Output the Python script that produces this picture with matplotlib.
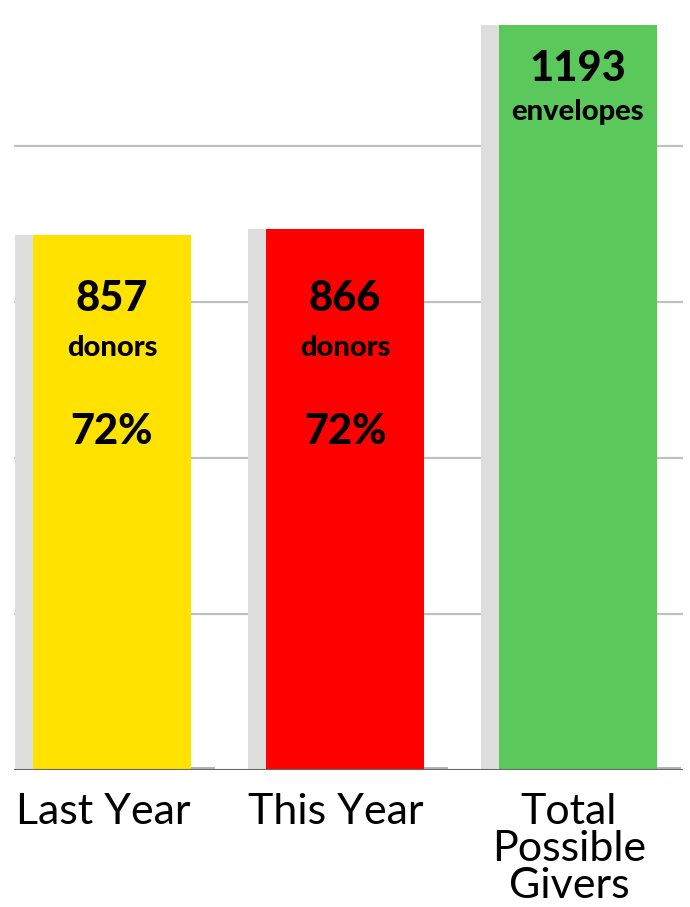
import matplotlib
matplotlib.use("Agg")
import matplotlib.pyplot as plt
import matplotlib.transforms as mtransforms

categories = ["Last Year", "This Year", "Total\nPossible\nGivers"]
values = [857, 866, 1193]
colors = ["#FFE200", "#FF0000", "#5AC85A"]
counts = ["857", "866", "1193"]
units = ["donors", "donors", "envelopes"]
percents = ["72%", "72%", ""]
stub_values = [5, 5, 5]

W_px, H_px = 690, 907
fig = plt.figure(figsize=(W_px / 100, H_px / 100), dpi=100)
base_px = 770
ax = fig.add_axes([0, (H_px - base_px) / H_px, 1, base_px / H_px])

px_per_unit_y = 0.6245
ax.set_ylim(0, base_px / px_per_unit_y)
step = 233.0
x0_px = 103.0
ax.set_xlim(-x0_px / step, (W_px - x0_px) / step)

W = 176 / step
s = 18 / step
stub_w = 24 / step
xs = list(range(len(categories)))

# gridlines
for g in [250, 500, 750, 1000]:
    ax.plot([(14 - x0_px) / step, (683 - x0_px) / step], [g, g], color="#C0C0C0", lw=1.6, zorder=0, solid_capstyle="butt")

for x, v, c in zip(xs, values, colors):
    ax.bar(x, v, width=W, color="#DEDEDE", zorder=1, linewidth=0)
    ax.bar(x - W / 2 + s, v, width=W - s, align="edge", color=c, zorder=2, linewidth=0)
for x, sv in zip(xs, stub_values):
    ax.bar(x + W / 2, sv, width=stub_w, align="edge", color="#B0B4BC", zorder=1, linewidth=0)

ax.plot([(14 - x0_px) / step, (683 - x0_px) / step], [0, 0], color="#666666", lw=1.5, zorder=3, solid_capstyle="butt")

def yv(px):
    return (base_px - px) / px_per_unit_y

font = "Lato"
count_y = [299, 299, 69]
unit_y = [348, 348, 112]
pct_y = [432, 432, 0]
for i, x in enumerate(xs):
    cx = x - W / 2 + s + (W - s) / 2
    ax.text(cx, yv(count_y[i]), counts[i], ha="center", va="center", fontsize=30, fontweight="black", family=font, zorder=4)
    ax.text(cx, yv(unit_y[i]), units[i], ha="center", va="center", fontsize=21, fontweight="black", family=font, zorder=4)
    if percents[i]:
        ax.text(cx, yv(pct_y[i]), percents[i], ha="center", va="center", fontsize=30, fontweight="black", family=font, zorder=4)

trans = mtransforms.blended_transform_factory(ax.transData, fig.transFigure)
for x, lab in zip(xs, categories):
    ax.text(x, 1 - 793 / H_px, lab, transform=trans, ha="center", va="top", fontsize=31, family=font, linespacing=0.97)

ax.axis("off")
fig.savefig("out.png", dpi=100)
